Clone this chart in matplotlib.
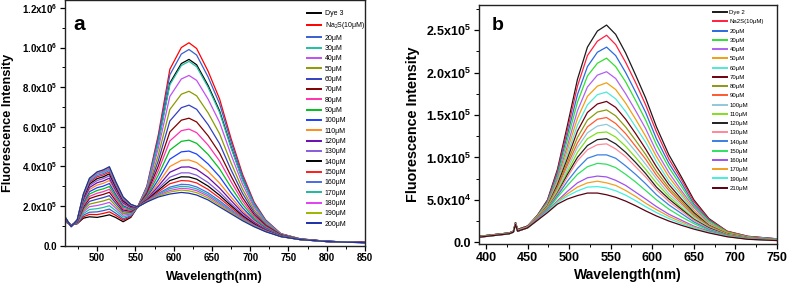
import numpy as np
import matplotlib
matplotlib.use("Agg")
import matplotlib.pyplot as plt
from matplotlib.ticker import FixedLocator, FixedFormatter, MultipleLocator

plt.rcParams['font.family'] = ['Liberation Sans', 'DejaVu Sans']
plt.rcParams['mathtext.fontset'] = 'custom'
plt.rcParams['mathtext.rm'] = 'Liberation Sans'
plt.rcParams['mathtext.bf'] = 'Liberation Sans:bold'
plt.rcParams['mathtext.default'] = 'regular'

# ---------------- Panel a data (intensity in units of 1e5) ----------------
wl_a = [458, 466, 474, 482, 490, 500, 508, 516, 524, 534, 544, 553,
        565, 580, 595, 610, 620, 630, 645, 660, 675, 690, 705, 720, 740, 765, 800, 850]

a_dye3 = [1.20, 1.05, 1.10, 1.38, 1.45, 1.42, 1.48, 1.55, 1.42, 1.20, 1.42, 1.95,
          2.91, 5.25, 8.20, 9.19, 9.40, 9.13, 8.08, 6.80, 4.98, 3.34, 2.06, 1.23, 0.58, 0.33, 0.21, 0.15]
a_na2s10 = [1.22, 1.04, 1.11, 1.45, 1.57, 1.56, 1.62, 1.70, 1.53, 1.28, 1.46, 1.95,
            3.00, 5.60, 8.90, 10.00, 10.24, 9.95, 8.80, 7.40, 5.40, 3.60, 2.20, 1.30, 0.60, 0.34, 0.21, 0.15]
a_c20 = [1.23, 1.04, 1.12, 1.53, 1.68, 1.70, 1.76, 1.84, 1.64, 1.35, 1.50, 1.95,
         2.96, 5.46, 8.62, 9.67, 9.90, 9.62, 8.51, 7.16, 5.23, 3.49, 2.14, 1.27, 0.59, 0.34, 0.21, 0.15]
a_c30 = [1.25, 1.03, 1.14, 1.61, 1.82, 1.86, 1.92, 2.01, 1.77, 1.44, 1.55, 1.95,
         2.90, 5.21, 8.12, 9.09, 9.30, 9.03, 7.99, 6.72, 4.93, 3.31, 2.05, 1.23, 0.58, 0.33, 0.21, 0.15]
a_c40 = [1.27, 1.02, 1.15, 1.70, 1.96, 2.02, 2.09, 2.18, 1.90, 1.53, 1.59, 1.95,
         2.83, 4.92, 7.53, 8.41, 8.59, 8.34, 7.39, 6.22, 4.58, 3.09, 1.93, 1.17, 0.57, 0.33, 0.21, 0.15]
a_c50 = [1.28, 1.02, 1.17, 1.78, 2.09, 2.18, 2.25, 2.35, 2.02, 1.61, 1.64, 1.95,
         2.74, 4.58, 6.87, 7.64, 7.79, 7.56, 6.70, 5.64, 4.17, 2.84, 1.80, 1.11, 0.55, 0.33, 0.21, 0.15]
a_c60 = [1.30, 1.01, 1.18, 1.87, 2.23, 2.34, 2.42, 2.52, 2.15, 1.70, 1.68, 1.95,
         2.67, 4.29, 6.29, 6.96, 7.09, 6.88, 6.10, 5.14, 3.82, 2.63, 1.68, 1.05, 0.54, 0.32, 0.21, 0.15]
a_c70 = [1.32, 1.00, 1.19, 1.95, 2.37, 2.50, 2.58, 2.69, 2.28, 1.79, 1.73, 1.95,
         2.60, 4.02, 5.74, 6.33, 6.43, 6.24, 5.54, 4.67, 3.50, 2.42, 1.57, 1.00, 0.53, 0.32, 0.21, 0.15]
a_c80 = [1.33, 1.00, 1.21, 2.03, 2.48, 2.64, 2.72, 2.84, 2.39, 1.86, 1.77, 1.95,
         2.54, 3.79, 5.28, 5.80, 5.88, 5.70, 5.07, 4.27, 3.22, 2.25, 1.48, 0.96, 0.51, 0.32, 0.21, 0.15]
a_c90 = [1.35, 0.99, 1.22, 2.10, 2.60, 2.78, 2.86, 2.98, 2.50, 1.94, 1.81, 1.95,
         2.48, 3.56, 4.82, 5.26, 5.32, 5.16, 4.60, 3.87, 2.94, 2.08, 1.39, 0.91, 0.50, 0.32, 0.21, 0.15]
a_c100 = [1.36, 0.99, 1.23, 2.17, 2.72, 2.92, 3.00, 3.13, 2.61, 2.01, 1.85, 1.95,
          2.42, 3.33, 4.36, 4.73, 4.77, 4.62, 4.12, 3.48, 2.66, 1.91, 1.30, 0.87, 0.49, 0.31, 0.21, 0.15]
a_c110 = [1.38, 0.98, 1.24, 2.25, 2.83, 3.05, 3.14, 3.28, 2.72, 2.09, 1.89, 1.95,
          2.38, 3.15, 3.99, 4.30, 4.32, 4.19, 3.74, 3.15, 2.44, 1.77, 1.23, 0.83, 0.48, 0.31, 0.20, 0.15]
a_c120 = [1.39, 0.97, 1.25, 2.31, 2.93, 3.17, 3.26, 3.40, 2.81, 2.15, 1.92, 1.95,
          2.34, 3.00, 3.70, 3.96, 3.97, 3.85, 3.44, 2.90, 2.27, 1.66, 1.17, 0.81, 0.47, 0.31, 0.20, 0.15]
a_c130 = [1.40, 0.97, 1.26, 2.37, 3.03, 3.28, 3.38, 3.52, 2.90, 2.21, 1.95, 1.95,
          2.31, 2.88, 3.45, 3.67, 3.67, 3.55, 3.18, 2.69, 2.11, 1.57, 1.12, 0.78, 0.47, 0.31, 0.20, 0.15]
a_c140 = [1.41, 0.97, 1.27, 2.42, 3.11, 3.38, 3.47, 3.62, 2.98, 2.26, 1.98, 1.95,
          2.29, 2.79, 3.28, 3.47, 3.46, 3.35, 3.00, 2.54, 2.01, 1.50, 1.09, 0.76, 0.47, 0.30, 0.20, 0.15]
a_c150 = [1.42, 0.96, 1.28, 2.47, 3.19, 3.47, 3.56, 3.71, 3.05, 2.31, 2.01, 1.95,
          2.27, 2.71, 3.12, 3.28, 3.26, 3.16, 2.83, 2.40, 1.91, 1.44, 1.05, 0.75, 0.46, 0.30, 0.20, 0.15]
a_c160 = [1.43, 0.96, 1.28, 2.50, 3.24, 3.54, 3.63, 3.79, 3.10, 2.35, 2.03, 1.95,
          2.24, 2.63, 2.95, 3.09, 3.07, 2.96, 2.66, 2.26, 1.81, 1.38, 1.02, 0.73, 0.46, 0.30, 0.20, 0.14]
a_c170 = [1.44, 0.96, 1.29, 2.54, 3.30, 3.61, 3.70, 3.86, 3.16, 2.39, 2.05, 1.95,
          2.23, 2.58, 2.87, 2.99, 2.96, 2.86, 2.57, 2.18, 1.76, 1.35, 1.00, 0.73, 0.46, 0.30, 0.20, 0.14]
a_c180 = [1.44, 0.95, 1.29, 2.56, 3.34, 3.65, 3.75, 3.91, 3.20, 2.41, 2.06, 1.95,
          2.22, 2.54, 2.78, 2.89, 2.86, 2.77, 2.49, 2.11, 1.71, 1.32, 0.99, 0.72, 0.45, 0.30, 0.20, 0.14]
a_c190 = [1.45, 0.95, 1.30, 2.59, 3.38, 3.70, 3.80, 3.96, 3.23, 2.44, 2.07, 1.95,
          2.21, 2.50, 2.70, 2.80, 2.76, 2.67, 2.40, 2.04, 1.66, 1.29, 0.97, 0.71, 0.45, 0.30, 0.20, 0.14]
a_c200 = [1.45, 0.95, 1.30, 2.60, 3.40, 3.72, 3.82, 3.98, 3.25, 2.45, 2.08, 1.95,
          2.20, 2.45, 2.60, 2.68, 2.64, 2.55, 2.30, 1.95, 1.60, 1.25, 0.95, 0.70, 0.45, 0.30, 0.20, 0.14]

a_series = [a_dye3, a_na2s10, a_c20, a_c30, a_c40, a_c50, a_c60, a_c70, a_c80, a_c90, a_c100,
            a_c110, a_c120, a_c130, a_c140, a_c150, a_c160, a_c170, a_c180, a_c190, a_c200]
a_labels = ["Dye 3", "Na$_\\mathrm{2}$S(10μM)", "20μM", "30μM", "40μM", "50μM", "60μM", "70μM",
            "80μM", "90μM", "100μM", "110μM", "120μM", "130μM", "140μM", "150μM", "160μM",
            "170μM", "180μM", "190μM", "200μM"]
a_colors = ["#000000", "#ff0000", "#3a5fcd", "#20c0a0", "#c050f0", "#8b9a00", "#3340c0", "#800000",
            "#ff30b0", "#00c020", "#1a40ff", "#ff8c1a", "#6a0dad", "#8a5ad8", "#000000", "#ff1a1a",
            "#4a6ae8", "#20b8a0", "#e040f0", "#9cb400", "#1c2fa8"]
a_yticks = [0, 2e5, 4e5, 6e5, 8e5, 1e6, 1.2e6]
a_yticklabels = ["0.0", "2.0x10$^{\\mathbf{5}}$", "4.0x10$^{\\mathbf{5}}$", "6.0x10$^{\\mathbf{5}}$",
                 "8.0x10$^{\\mathbf{5}}$", "1.0x10$^{\\mathbf{6}}$", "1.2x10$^{\\mathbf{6}}$"]
a_xticks = [500, 550, 600, 650, 700, 750, 800, 850]

# ---------------- Panel b data (intensity in units of 1e5) ----------------
wl_b = [392, 410, 428, 433, 435.5, 438, 450, 462, 474, 486, 498, 510, 522, 534, 545, 556,
        568, 580, 592, 605, 620, 635, 650, 668, 690, 715, 750]

b_dye2 = [0.07, 0.09, 0.11, 0.13, 0.23, 0.15, 0.19, 0.32, 0.50, 0.86, 1.38, 1.92, 2.30, 2.49, 2.56, 2.45,
          2.23, 1.97, 1.70, 1.36, 1.03, 0.77, 0.50, 0.28, 0.13, 0.07, 0.04]
b_na2s10 = [0.07, 0.09, 0.11, 0.13, 0.23, 0.15, 0.19, 0.32, 0.49, 0.84, 1.33, 1.84, 2.20, 2.37, 2.44, 2.33,
            2.12, 1.88, 1.62, 1.30, 0.98, 0.74, 0.48, 0.27, 0.13, 0.07, 0.04]
b_c20 = [0.07, 0.09, 0.11, 0.13, 0.23, 0.15, 0.19, 0.31, 0.48, 0.81, 1.27, 1.74, 2.07, 2.24, 2.30, 2.20,
         2.00, 1.77, 1.53, 1.22, 0.93, 0.70, 0.45, 0.26, 0.12, 0.065, 0.04]
b_c30 = [0.07, 0.09, 0.11, 0.13, 0.23, 0.15, 0.19, 0.31, 0.47, 0.78, 1.21, 1.65, 1.96, 2.11, 2.17, 2.07,
         1.89, 1.67, 1.44, 1.15, 0.88, 0.66, 0.43, 0.25, 0.12, 0.063, 0.036]
b_c40 = [0.07, 0.09, 0.11, 0.13, 0.23, 0.15, 0.19, 0.30, 0.46, 0.75, 1.14, 1.55, 1.83, 1.97, 2.01, 1.93,
         1.75, 1.55, 1.34, 1.07, 0.82, 0.61, 0.41, 0.23, 0.11, 0.06, 0.035]
b_c50 = [0.07, 0.09, 0.11, 0.13, 0.23, 0.15, 0.19, 0.30, 0.45, 0.72, 1.09, 1.46, 1.72, 1.84, 1.88, 1.80,
         1.64, 1.45, 1.25, 1.01, 0.77, 0.58, 0.38, 0.22, 0.11, 0.058, 0.033]
b_c60 = [0.07, 0.09, 0.11, 0.13, 0.23, 0.15, 0.19, 0.30, 0.44, 0.70, 1.04, 1.38, 1.62, 1.74, 1.77, 1.69,
         1.54, 1.36, 1.18, 0.95, 0.72, 0.55, 0.36, 0.21, 0.10, 0.056, 0.032]
b_c70 = [0.07, 0.09, 0.11, 0.13, 0.23, 0.15, 0.19, 0.29, 0.43, 0.68, 0.99, 1.31, 1.53, 1.63, 1.66, 1.59,
         1.45, 1.28, 1.10, 0.89, 0.68, 0.51, 0.35, 0.20, 0.10, 0.054, 0.031]
b_c80 = [0.065, 0.085, 0.105, 0.125, 0.22, 0.14, 0.18, 0.29, 0.425, 0.655, 0.945, 1.235, 1.44, 1.535, 1.56, 1.49,
         1.358, 1.20, 1.035, 0.835, 0.64, 0.485, 0.328, 0.195, 0.098, 0.053, 0.03]
b_c90 = [0.065, 0.085, 0.105, 0.125, 0.22, 0.14, 0.18, 0.29, 0.42, 0.64, 0.91, 1.17, 1.36, 1.45, 1.47, 1.40,
         1.28, 1.13, 0.98, 0.79, 0.61, 0.46, 0.31, 0.19, 0.095, 0.051, 0.029]
b_c100 = [0.065, 0.085, 0.105, 0.125, 0.22, 0.14, 0.18, 0.285, 0.41, 0.62, 0.87, 1.12, 1.29, 1.37, 1.39, 1.33,
          1.21, 1.07, 0.92, 0.75, 0.57, 0.44, 0.30, 0.18, 0.092, 0.05, 0.028]
b_c110 = [0.065, 0.085, 0.105, 0.125, 0.22, 0.14, 0.18, 0.28, 0.41, 0.60, 0.83, 1.06, 1.22, 1.29, 1.30, 1.24,
          1.13, 1.00, 0.86, 0.70, 0.54, 0.41, 0.28, 0.17, 0.089, 0.048, 0.027]
b_c120 = [0.065, 0.085, 0.105, 0.125, 0.22, 0.14, 0.18, 0.28, 0.40, 0.58, 0.80, 1.00, 1.14, 1.21, 1.22, 1.16,
          1.06, 0.94, 0.81, 0.65, 0.51, 0.39, 0.27, 0.17, 0.086, 0.046, 0.026]
b_c130 = [0.065, 0.085, 0.105, 0.125, 0.22, 0.14, 0.18, 0.28, 0.40, 0.57, 0.77, 0.96, 1.09, 1.15, 1.16, 1.10,
          1.01, 0.89, 0.77, 0.62, 0.48, 0.37, 0.26, 0.16, 0.084, 0.045, 0.026]
b_c140 = [0.06, 0.08, 0.10, 0.12, 0.21, 0.13, 0.17, 0.27, 0.39, 0.55, 0.72, 0.87, 0.99, 1.03, 1.03, 0.99,
          0.90, 0.80, 0.69, 0.56, 0.44, 0.34, 0.24, 0.15, 0.08, 0.043, 0.025]
b_c150 = [0.06, 0.08, 0.10, 0.12, 0.21, 0.13, 0.17, 0.27, 0.38, 0.53, 0.67, 0.80, 0.89, 0.93, 0.92, 0.88,
          0.80, 0.71, 0.61, 0.50, 0.39, 0.30, 0.22, 0.14, 0.077, 0.041, 0.024]
b_c160 = [0.06, 0.08, 0.10, 0.12, 0.21, 0.13, 0.17, 0.27, 0.37, 0.49, 0.60, 0.70, 0.76, 0.78, 0.77, 0.73,
          0.67, 0.59, 0.51, 0.42, 0.33, 0.26, 0.19, 0.13, 0.072, 0.039, 0.022]
b_c170 = [0.06, 0.08, 0.10, 0.12, 0.21, 0.13, 0.17, 0.26, 0.36, 0.48, 0.57, 0.65, 0.70, 0.72, 0.70, 0.67,
          0.61, 0.54, 0.46, 0.385, 0.305, 0.24, 0.18, 0.12, 0.07, 0.037, 0.021]
b_c190 = [0.06, 0.08, 0.10, 0.12, 0.21, 0.13, 0.17, 0.26, 0.36, 0.47, 0.545, 0.605, 0.65, 0.656, 0.64, 0.607,
          0.555, 0.49, 0.42, 0.35, 0.28, 0.22, 0.17, 0.117, 0.068, 0.036, 0.021]
b_c210 = [0.06, 0.08, 0.10, 0.12, 0.21, 0.13, 0.17, 0.26, 0.35, 0.45, 0.51, 0.55, 0.58, 0.58, 0.56, 0.53,
          0.485, 0.43, 0.37, 0.31, 0.25, 0.20, 0.155, 0.11, 0.065, 0.035, 0.02]

b_series = [b_dye2, b_na2s10, b_c20, b_c30, b_c40, b_c50, b_c60, b_c70, b_c80, b_c90, b_c100,
            b_c110, b_c120, b_c130, b_c140, b_c150, b_c160, b_c170, b_c190, b_c210]
b_labels = ["Dye 2", "Na2S(10μM)", "20μM", "30μM", "40μM", "50μM", "60μM", "70μM", "80μM", "90μM",
            "100μM", "110μM", "120μM", "130μM", "140μM", "150μM", "160μM", "170μM", "190μM", "210μM"]
b_colors = ["#1a1a1a", "#ff2040", "#2a6ae0", "#30e030", "#b060f0", "#f0a010", "#50e8d8", "#700010",
            "#8a9a10", "#ff5a30", "#90c8d8", "#80e020", "#202020", "#ff8898", "#3a80e0", "#30e060",
            "#a050f0", "#f0a020", "#40f0e0", "#5a0010"]
b_yticks = [0, 5e4, 1e5, 1.5e5, 2e5, 2.5e5]
b_yticklabels = ["0.0", "5.0x10$^{\\mathbf{4}}$", "1.0x10$^{\\mathbf{5}}$", "1.5x10$^{\\mathbf{5}}$",
                 "2.0x10$^{\\mathbf{5}}$", "2.5x10$^{\\mathbf{5}}$"]
b_xticks = [400, 450, 500, 550, 600, 650, 700, 750]

SCALE = 1e5

W, H = 788, 289
fig = plt.figure(figsize=(W / 100, H / 100), dpi=100)

def px_axes(left, top, right, bottom):
    return fig.add_axes([left / W, 1 - bottom / H, (right - left) / W, (bottom - top) / H])

axa = px_axes(65, 0, 365, 245.5)
axb = px_axes(479, 4.7, 777, 244.3)

def style(ax, tick_fs, xticks, yticks, yticklabels, xminor, yminor):
    for sp in ax.spines.values():
        sp.set_linewidth(1.0)
        sp.set_color('#222222')
    ax.xaxis.set_major_locator(FixedLocator(xticks))
    ax.xaxis.set_minor_locator(MultipleLocator(xminor))
    ax.yaxis.set_major_locator(FixedLocator(yticks))
    ax.yaxis.set_major_formatter(FixedFormatter(yticklabels))
    ax.yaxis.set_minor_locator(MultipleLocator(yminor))
    ax.tick_params(which='major', direction='out', length=3.5, width=0.9, labelsize=tick_fs, pad=2,
                   top=False, right=False)
    ax.tick_params(which='minor', direction='out', length=2, width=0.7, top=False, right=False)
    for lab in ax.get_xticklabels() + ax.get_yticklabels():
        lab.set_fontweight('bold')

# Panel a
for vals, lab, col in zip(a_series, a_labels, a_colors):
    axa.plot(wl_a, np.array(vals) * SCALE, color=col, lw=0.9, label=lab)
axa.set_xlim(458, 850)
axa.set_ylim(0, 1.24e6)
style(axa, 7, a_xticks, a_yticks, a_yticklabels, 25, 1e5)
axa.set_xlabel("Wavelength(nm)", fontsize=9, fontweight='bold')
axa.set_ylabel("Fluorescence Intensity", fontsize=9.2, fontweight='bold')
axa.xaxis.set_label_coords(0.497, -0.105)
axa.yaxis.set_label_coords(-0.17, 0.5)
axa.text(0.027, 0.90, "a", transform=axa.transAxes, fontsize=15, fontweight='bold', va='center', ha='left')
leg = axa.legend(loc='upper left', bbox_to_anchor=(307 / W, 1 - 10 / H), bbox_transform=fig.transFigure,
                 frameon=False, fontsize=5, handlelength=2.0, handletextpad=0.55, labelspacing=0.48,
                 borderpad=0, borderaxespad=0)
for l in leg.get_lines():
    l.set_linewidth(1.4)

# Panel b
for vals, lab, col in zip(b_series, b_labels, b_colors):
    axb.plot(wl_b, np.array(vals) * SCALE, color=col, lw=0.9, label=lab)
axb.set_xlim(391.6, 750)
axb.set_ylim(-2400, 2.8e5)
style(axb, 9, b_xticks, b_yticks, b_yticklabels, 25, 2.5e4)
axb.set_xlabel("Wavelength(nm)", fontsize=10, fontweight='bold')
axb.set_ylabel("Fluorescence Intensity", fontsize=10.4, fontweight='bold')
axb.xaxis.set_label_coords(0.50, -0.099)
axb.yaxis.set_label_coords(-0.198, 0.5)
axb.text(0.044, 0.915, "b", transform=axb.transAxes, fontsize=14, fontweight='bold', va='center', ha='left')
legb = axb.legend(loc='upper left', bbox_to_anchor=(713 / W, 1 - 10 / H), bbox_transform=fig.transFigure,
                  frameon=False, fontsize=4.3, handlelength=2.4, handletextpad=0.35, labelspacing=0.68,
                  borderpad=0, borderaxespad=0)
for l in legb.get_lines():
    l.set_linewidth(1.4)

fig.savefig("out.png", dpi=100)
